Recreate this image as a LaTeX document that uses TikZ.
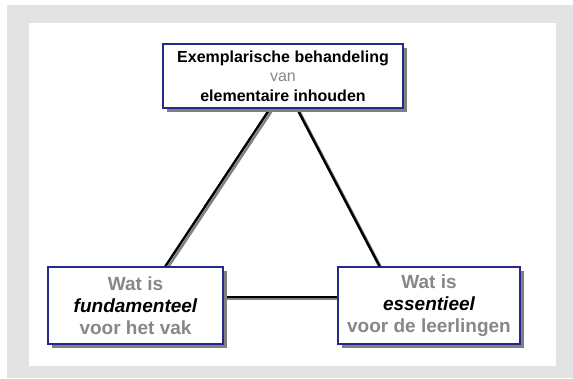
\documentclass[tikz,border=0pt]{standalone}
\usepackage{fontspec}
\setmainfont{Liberation Sans}
\usetikzlibrary{shadows,calc}
\definecolor{framegray}{RGB}{227,227,227}
\definecolor{txtgray}{RGB}{135,135,135}
\definecolor{boxblue}{RGB}{40,40,140}
\definecolor{shadowgray}{RGB}{128,128,128}
\pgfdeclarelayer{frame}
\pgfdeclarelayer{links}
\pgfsetlayers{frame,links,main}
\tikzset{
  box/.style={draw=boxblue, line width=1.2pt, fill=white, align=center,
    inner sep=0pt,
    drop shadow={shadow xshift=4pt, shadow yshift=-4pt, fill=shadowgray, opacity=1}},
  topbox/.style={box, minimum width=240pt, minimum height=64pt,
    font=\fontsize{16pt}{19.5pt}\selectfont\bfseries},
  lowbox/.style={box, minimum height=77pt,
    font=\fontsize{19pt}{22pt}\selectfont\bfseries},
  link/.style={line width=2.4pt, black},
  linkshadow/.style={line width=2.4pt, shadowgray}
}
\begin{document}
\begin{tikzpicture}[x=1pt,y=-1pt]
\useasboundingbox (0,0) rectangle (573,378);
\begin{pgfonlayer}{frame}
\fill[framegray] (7,5) rectangle (573,378);
\fill[white] (29,23) rectangle (556,366);
\end{pgfonlayer}
\node[topbox] (top) at (283,76)
  {\raisebox{-2pt}{Exemplarische behandeling}\\
   \raisebox{-2pt}{\mdseries\color{txtgray}van}\\
   \raisebox{-2pt}{elementaire inhouden}};
\node[lowbox, minimum width=175pt] (bl) at (135.5,305.5)
  {{\color{txtgray}Wat is}\\
   {\itshape fundamenteel}\\
   {\color{txtgray}voor het vak}};
\node[lowbox, minimum width=182pt] (br) at (429,305.5)
  {{\color{txtgray}Wat is}\\
   {\itshape essentieel}\\
   {\color{txtgray}voor de leerlingen}};
\coordinate (t1) at ($(top.south west)!0.446!(top.south east)$);
\coordinate (t2) at ($(top.south west)!0.558!(top.south east)$);
\coordinate (b1) at ($(bl.north west)!0.669!(bl.north east)$);
\coordinate (b2) at ($(br.north west)!0.23!(br.north east)$);
\coordinate (h1) at ($(bl.north east)!0.39!(bl.south east)$);
\coordinate (h2) at ($(br.north west)!0.39!(br.south west)$);
\begin{pgfonlayer}{links}
\draw[linkshadow] ($(t1)+(2,2)$) -- ($(b1)+(2,2)$);
\draw[linkshadow] ($(t2)+(2,2)$) -- ($(b2)+(2,2)$);
\draw[linkshadow] ($(h1)+(2,2)$) -- ($(h2)+(2,2)$);
\draw[link] (t1) -- (b1);
\draw[link] (t2) -- (b2);
\draw[link] (h1) -- (h2);
\end{pgfonlayer}
\end{tikzpicture}
\end{document}
